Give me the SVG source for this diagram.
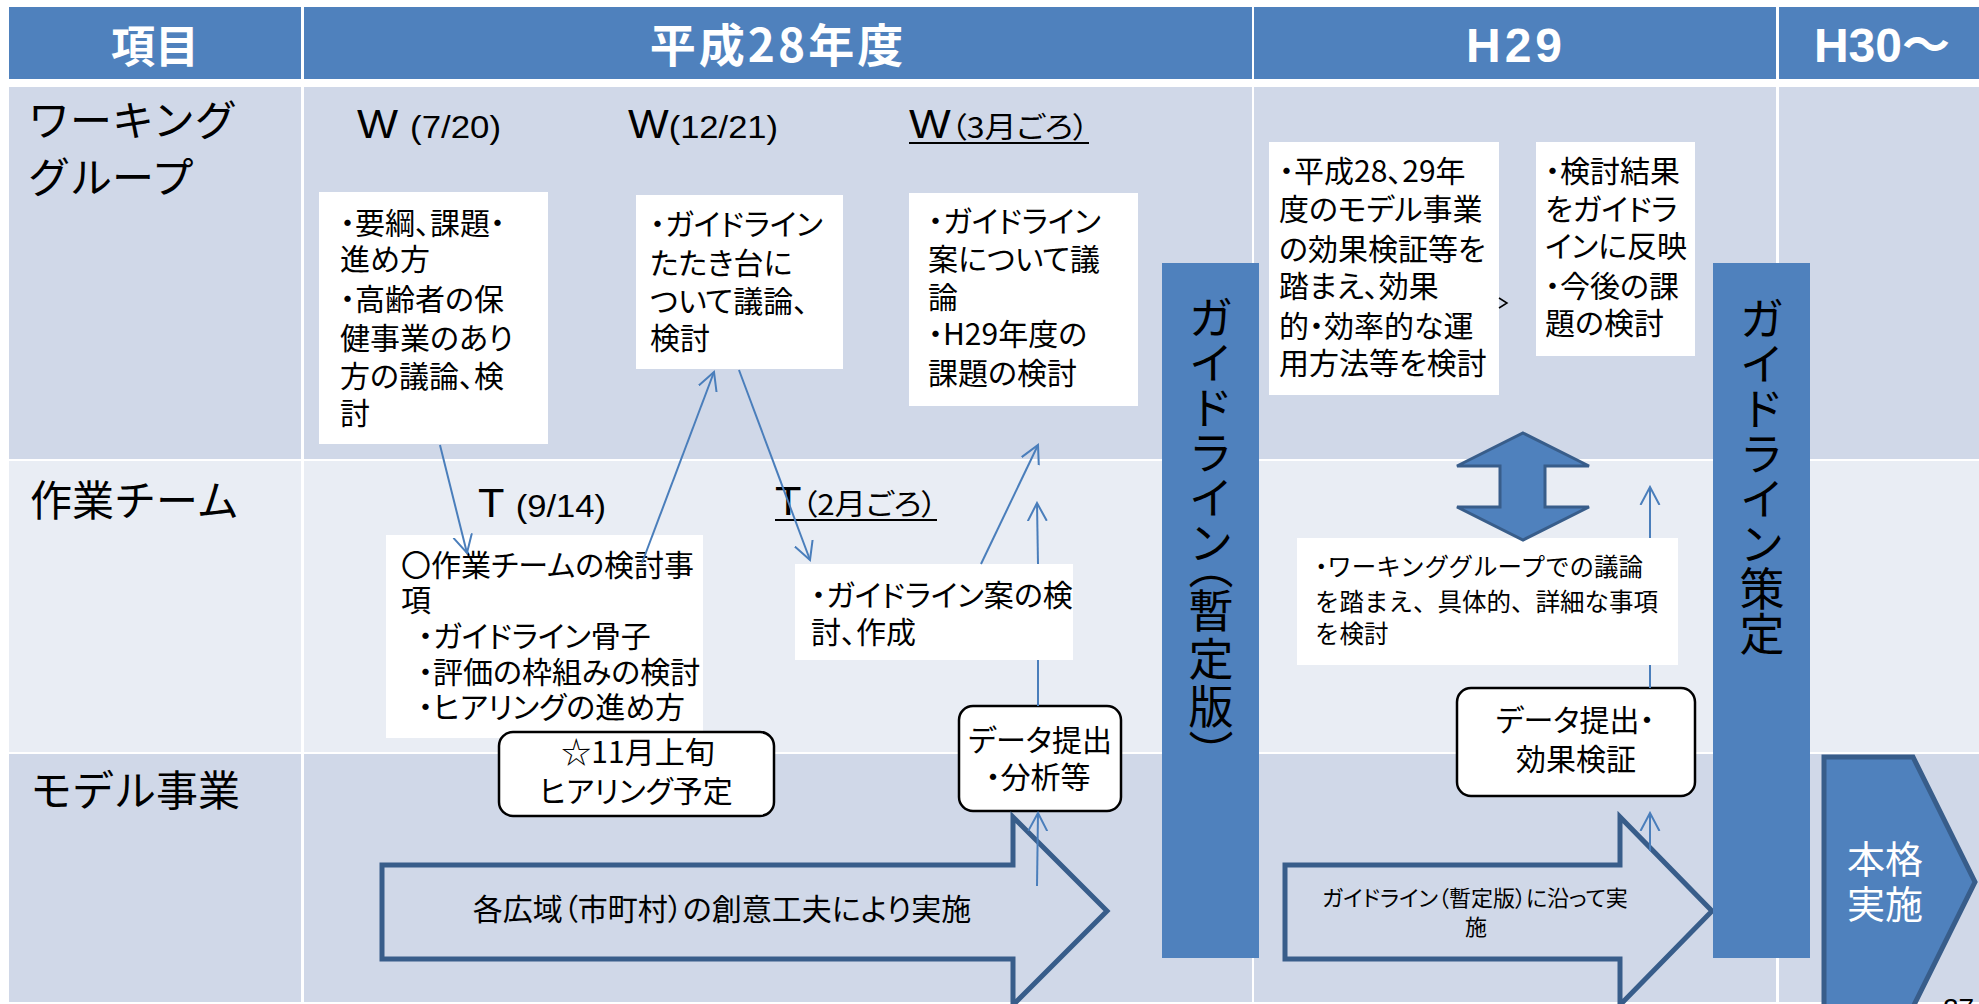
<svg xmlns="http://www.w3.org/2000/svg" width="1979" height="1004" viewBox="0 0 1979 1004">
<style>
.c1{fill:#D0D8E8}.c2{fill:#E9EDF4}.hd{fill:#4F81BD}
.box{fill:#fff}
.rbox{fill:#fff;stroke:#000;stroke-width:2.5}
.bar{fill:#4F81BD}
.big{fill:none;stroke:#385D8A;stroke-width:5;stroke-linejoin:miter}
.conn{stroke:#4A7EBB;stroke-width:2;fill:none}
text{font-family:"Noto Sans CJK JP","Noto Sans",sans-serif;fill:#000}
.ht{fill:#fff;font-weight:bold;text-anchor:middle}
.lab{font-size:42px}
.bt{font-size:30px;font-feature-settings:"palt"}
.p{font-feature-settings:"palt"}
.lat{font-family:"Liberation Sans",Arial,sans-serif}
.vt{font-size:45px;writing-mode:vertical-rl}
.vp{font-feature-settings:"vert","vpal"}
.mid{text-anchor:middle}
</style>
<defs>
<marker id="ah" viewBox="0 0 20 24" refX="18" refY="12" markerWidth="20" markerHeight="24" markerUnits="userSpaceOnUse" orient="auto">
<path d="M0,2.5 L18,12 L0,21.5" fill="none" stroke="#4A7EBB" stroke-width="2"/>
</marker>
</defs>
<rect width="1979" height="1004" fill="#fff"/>
<g id="table">
<rect class="hd" x="9" y="7" width="292" height="72"/>
<rect class="hd" x="304" y="7" width="948" height="72"/>
<rect class="hd" x="1254" y="7" width="522" height="72"/>
<rect class="hd" x="1779" y="7" width="200" height="72"/>
<rect class="c1" x="9" y="87" width="292" height="372"/>
<rect class="c1" x="304" y="87" width="948" height="372"/>
<rect class="c1" x="1254" y="87" width="522" height="372"/>
<rect class="c1" x="1779" y="87" width="200" height="372"/>
<rect class="c2" x="9" y="461" width="292" height="291"/>
<rect class="c2" x="304" y="461" width="948" height="291"/>
<rect class="c2" x="1254" y="461" width="522" height="291"/>
<rect class="c2" x="1779" y="461" width="200" height="291"/>
<rect class="c1" x="9" y="754" width="292" height="248"/>
<rect class="c1" x="304" y="754" width="948" height="248"/>
<rect class="c1" x="1254" y="754" width="522" height="248"/>
<rect class="c1" x="1779" y="754" width="200" height="248"/>
<text class="ht" x="155" y="63" font-size="44">項目</text>
<text class="ht" x="778" y="62" font-size="46" letter-spacing="3">平成28年度</text>
<text class="ht lat" x="1516" y="62" font-size="48" letter-spacing="4">H29</text>
<text class="ht" x="1882" y="62" font-size="48"><tspan class="lat">H30</tspan>～</text>
<text class="lab" x="28" y="136">ワーキング</text>
<text class="lab" x="28" y="193">グループ</text>
<text class="lab" x="30" y="516">作業チーム</text>
<text class="lab" x="30" y="806">モデル事業</text>
</g>
<g id="labels">
<text x="357" y="138" textLength="144" lengthAdjust="spacingAndGlyphs"><tspan class="lat" font-size="40">W </tspan><tspan class="lat" font-size="32">(7/20)</tspan></text>
<text x="628" y="138" textLength="150" lengthAdjust="spacingAndGlyphs"><tspan class="lat" font-size="40">W</tspan><tspan class="lat" font-size="32">(12/21)</tspan></text>
<text x="909" y="138" textLength="180" lengthAdjust="spacingAndGlyphs"><tspan class="lat" font-size="40">W</tspan><tspan class="p" font-size="29">（3月ごろ）</tspan></text>
<line x1="909" y1="143" x2="1089" y2="143" stroke="#000" stroke-width="2"/>
<text x="478" y="517" textLength="128" lengthAdjust="spacingAndGlyphs"><tspan class="lat" font-size="40">T </tspan><tspan class="lat" font-size="32">(9/14)</tspan></text>
<text x="775" y="515" textLength="162" lengthAdjust="spacingAndGlyphs"><tspan class="lat" font-size="40">T</tspan><tspan class="p" font-size="29">（2月ごろ）</tspan></text>
<line x1="775" y1="520" x2="937" y2="520" stroke="#000" stroke-width="2"/>
</g>
<g id="wg1">
<rect class="box" x="319" y="192" width="229" height="252"/>
<text class="bt" x="340" y="234">・要綱、課題・</text>
<text class="bt" x="340" y="270">進め方</text>
<text class="bt" x="340" y="310">・高齢者の保</text>
<text class="bt" x="340" y="349">健事業のあり</text>
<text class="bt" x="340" y="387">方の議論、検</text>
<text class="bt" x="340" y="424">討</text>
</g>
<g id="wg2">
<rect class="box" x="636" y="195" width="207" height="174"/>
<text class="bt" x="650" y="235">・ガイドライン</text>
<text class="bt" x="650" y="274">たたき台に</text>
<text class="bt" x="650" y="312">ついて議論、</text>
<text class="bt" x="650" y="349">検討</text>
</g>
<g id="wg3">
<rect class="box" x="909" y="193" width="229" height="213"/>
<text class="bt" x="928" y="232">・ガイドライン</text>
<text class="bt" x="928" y="270">案について議</text>
<text class="bt" x="928" y="308">論</text>
<text class="bt" x="928" y="345">・H29年度の</text>
<text class="bt" x="928" y="384">課題の検討</text>
</g>
<g id="wg4">
<rect class="box" x="1269" y="142" width="230" height="253"/>
<text class="bt" x="1279" y="182" font-size="31">・平成28、29年</text>
<text class="bt" x="1279" y="220">度のモデル事業</text>
<text class="bt" x="1279" y="260">の効果検証等を</text>
<text class="bt" x="1279" y="297">踏まえ、効果</text>
<text class="bt" x="1279" y="337">的・効率的な運</text>
<text class="bt" x="1279" y="374">用方法等を検討</text>
</g>
<g id="wg5">
<rect class="box" x="1536" y="142" width="159" height="214"/>
<text class="bt" x="1545" y="182">・検討結果</text>
<text class="bt" x="1545" y="220">をガイドラ</text>
<text class="bt" x="1545" y="257">インに反映</text>
<text class="bt" x="1545" y="297">・今後の課</text>
<text class="bt" x="1545" y="334">題の検討</text>
</g>
<g id="team1">
<rect class="box" x="386" y="535" width="317" height="203"/>
<text class="bt" x="401" y="576">〇作業チームの検討事</text>
<text class="bt" x="401" y="611">項</text>
<text class="bt" x="418" y="647" font-size="26">・ガイドライン骨子</text>
<text class="bt" x="418" y="683" font-size="26">・評価の枠組みの検討</text>
<text class="bt" x="418" y="718" font-size="26">・ヒアリングの進め方</text>
</g>
<g id="hearing">
<rect class="rbox" x="499" y="732" width="275" height="84" rx="14"/>
<text class="bt mid" x="638" y="763">☆11月上旬</text>
<text class="bt mid" x="636" y="802">ヒアリング予定</text>
</g>
<g id="team2">
<rect class="box" x="795" y="564" width="278" height="96"/>
<text class="bt" x="811" y="606">・ガイドライン案の検</text>
<text class="bt" x="811" y="643">討、作成</text>
</g>
<g id="data1">
<rect class="rbox" x="959" y="706" width="162" height="105" rx="14"/>
<text class="bt mid" x="1040" y="751">データ提出</text>
<text class="bt mid" x="1038" y="788">・分析等</text>
</g>
<g id="model1">
<path class="big" d="M382,865 H1013 V817 L1107,911 L1013,1005 V959 H382 Z"/>
<text class="bt mid" x="722" y="920" font-size="29">各広域（市町村）の創意工夫により実施</text>
</g>
<g id="bar1">
<rect class="bar" x="1162" y="263" width="97" height="695"/>
<text class="vt" x="1211" y="295">ガイドライン<tspan class="vp">（</tspan><tspan letter-spacing="3">暫定版</tspan><tspan class="vp">）</tspan></text>
</g>
<g id="team3">
<rect class="box" x="1297" y="538" width="381" height="127"/>
<text x="1315" y="576" font-size="24.5"><tspan class="p">・</tspan>ワーキンググループでの議論</text>
<text x="1315" y="611" font-size="24.5">を踏まえ、具体的、詳細な事項</text>
<text x="1315" y="643" font-size="24.5">を検討</text>
</g>
<g id="dblarrow">
<path d="M1523,433 L1589,466 H1545 V507 H1589 L1523,540 L1457,507 H1500 V466 H1457 Z" fill="#4F81BD" stroke="#385D8A" stroke-width="3"/>
</g>
<g id="data2">
<rect class="rbox" x="1457" y="688" width="238" height="108" rx="14"/>
<text class="bt mid" x="1575" y="731" font-size="32">データ提出・</text>
<text class="bt mid" x="1576" y="770" font-size="32">効果検証</text>
</g>
<g id="model2">
<path class="big" d="M1285,865 H1620 V817 L1712,911 L1620,1005 V959 H1285 Z"/>
<text class="mid p" x="1475" y="906" font-size="22">ガイドライン（暫定版）に沿って実</text>
<text class="mid" x="1476" y="935" font-size="22">施</text>
</g>
<g id="bar2">
<rect class="bar" x="1713" y="263" width="97" height="695"/>
<text class="vt" x="1762" y="296">ガイドライン策定</text>
</g>
<g id="full">
<path d="M1824,757 H1913 L1975,882 L1913,1007 H1824 Z" fill="#4F81BD" stroke="#385D8A" stroke-width="5"/>
<text class="mid" x="1885" y="873" font-size="38" style="fill:#fff">本格</text>
<text class="mid" x="1885" y="918" font-size="38" style="fill:#fff">実施</text>
</g>
<text x="1943" y="1018" font-size="28" class="lat">27</text>
<g id="connectors">
<line class="conn" x1="440" y1="445" x2="467" y2="553" marker-end="url(#ah)"/>
<line class="conn" x1="642" y1="563" x2="714" y2="372" marker-end="url(#ah)"/>
<line class="conn" x1="739" y1="370" x2="810" y2="560" marker-end="url(#ah)"/>
<line class="conn" x1="981" y1="564" x2="1038" y2="445" marker-end="url(#ah)"/>
<line class="conn" x1="1038" y1="706" x2="1038" y2="660"/>
<line class="conn" x1="1038" y1="564" x2="1037" y2="503" marker-end="url(#ah)"/>
<line class="conn" x1="1037" y1="886" x2="1038" y2="813" marker-end="url(#ah)"/>
<line class="conn" x1="1650" y1="688" x2="1650" y2="665"/>
<line class="conn" x1="1650" y1="538" x2="1650" y2="487" marker-end="url(#ah)"/>
<line class="conn" x1="1650" y1="851" x2="1650" y2="813" marker-end="url(#ah)"/>
<polyline points="1499,298 1507,303 1499,308" fill="none" stroke="#000" stroke-width="1.5"/>
</g>
</svg>
